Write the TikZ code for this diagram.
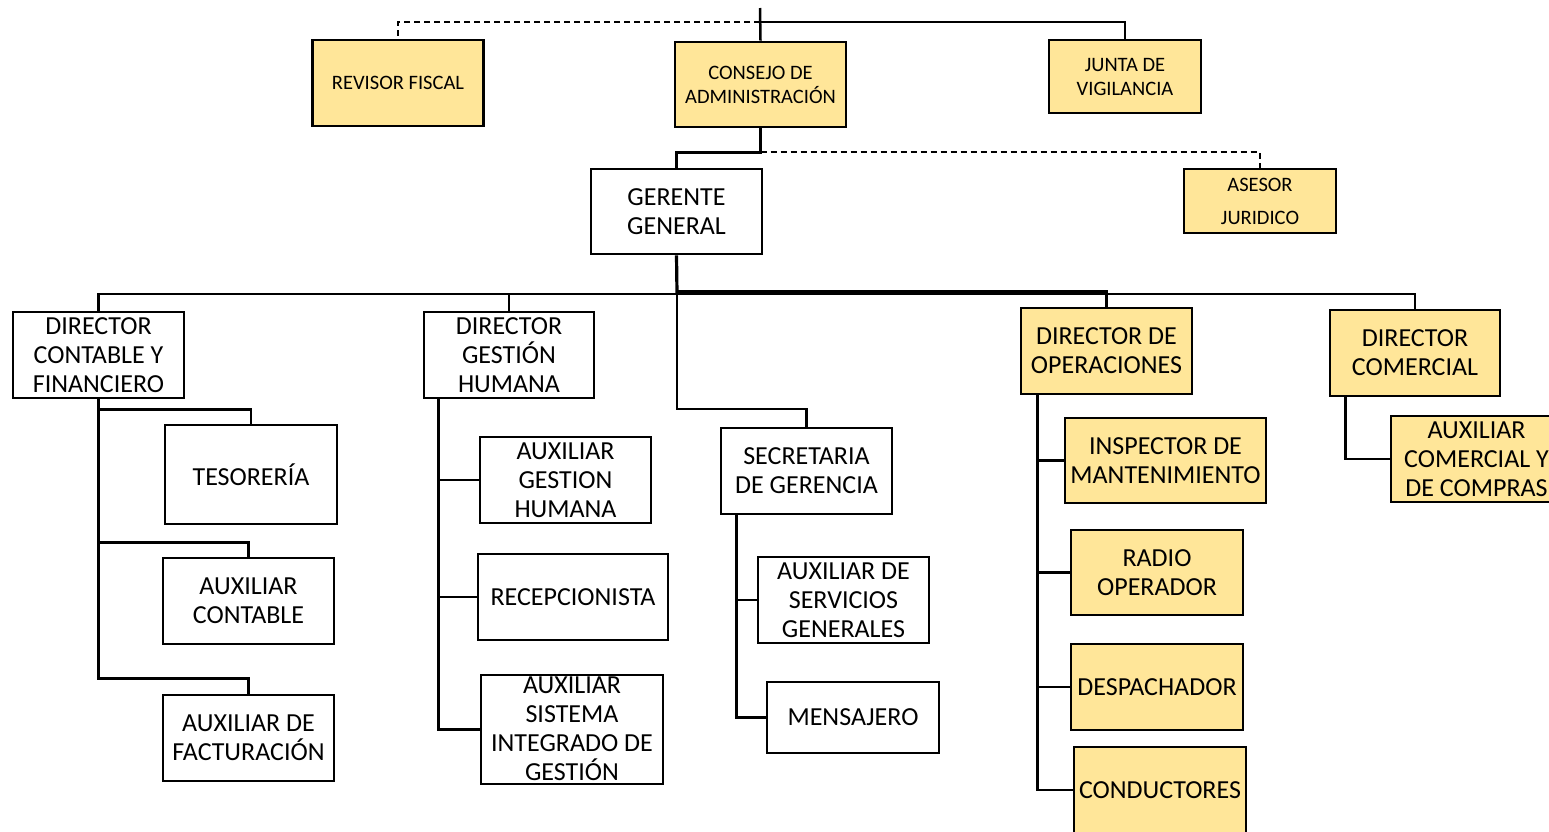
\documentclass[tikz,border=0pt]{standalone}
\usepackage{fontspec}
\setmainfont{Carlito}
\usetikzlibrary{positioning}
\definecolor{gold}{HTML}{FFE699}
\tikzset{
  post/.style={draw, line width=2.6pt, inner sep=0pt, align=center,
               font=\fontsize{26}{29}\selectfont, minimum width=171pt, minimum height=86pt},
  postgold/.style={post, fill=gold},
  board/.style={postgold, font=\fontsize{20.5}{24}\selectfont},
  link/.style={line width=2.5pt},
  softlink/.style={line width=1.8pt, dash pattern=on 6pt off 4pt}
}

\begin{document}
\begin{tikzpicture}[x=1pt, y=-1pt]
  \useasboundingbox (0,0) rectangle (1549,831);
  % governing bodies
  \node[board] (rev) at (398,83) {REVISOR FISCAL};
  \node[board, minimum height=85pt] (cons) at (760.5,84.5) {CONSEJO DE\\ADMINISTRACIÓN};
  \node[board, minimum width=152pt, minimum height=73pt] (junta) at (1125,76.5) {JUNTA DE\\VIGILANCIA};
  \node[post, minimum height=85pt] (ger) at (676.5,211.5) {GERENTE\\GENERAL};
  \node[board, minimum width=152pt, minimum height=64pt, font=\fontsize{20.5}{33}\selectfont] (ases) at (1260,201) {ASESOR\\JURIDICO};
  % directors
  \node[post] (dcf) at (98.5,355) {DIRECTOR\\CONTABLE Y\\FINANCIERO};
  \node[post, minimum width=170pt] (dgh) at (509,355) {DIRECTOR\\GESTIÓN\\HUMANA};
  \node[postgold] (dop) at (1106.5,351) {DIRECTOR DE\\OPERACIONES};
  \node[postgold, minimum width=170pt] (dcom) at (1415,353) {DIRECTOR\\COMERCIAL};
  % staff
  \node[post, minimum width=172pt, minimum height=99pt] (tes) at (251,474.5) {TESORERÍA};
  \node[post] (auxc) at (248.5,601) {AUXILIAR\\CONTABLE};
  \node[post] (fact) at (248.5,738) {AUXILIAR DE\\FACTURACIÓN};
  \node[post] (auxgh) at (565.5,480) {AUXILIAR\\GESTION\\HUMANA};
  \node[post, minimum width=190pt] (recep) at (573,597) {RECEPCIONISTA};
  \node[post, minimum width=182pt, minimum height=109pt] (sig) at (572,729.5)
    {\smash{\raisebox{-5pt}{\parbox[c]{182pt}{\centering AUXILIAR\\SISTEMA\\INTEGRADO DE\\GESTIÓN}}}};
  \node[post] (secr) at (806.5,471) {SECRETARIA\\DE GERENCIA};
  \node[post] (auxsg) at (843.5,600) {AUXILIAR DE\\SERVICIOS\\GENERALES};
  \node[post, minimum width=172pt, minimum height=71pt] (mens) at (853,717.5) {MENSAJERO};
  \node[postgold, minimum width=201pt, minimum height=85pt] (insp) at (1165.5,460.5) {INSPECTOR DE\\MANTENIMIENTO};
  \node[postgold, minimum width=172pt, minimum height=85pt] (radio) at (1157,572.5) {RADIO\\OPERADOR};
  \node[postgold, minimum width=172pt] (desp) at (1157,687) {DESPACHADOR};
  \node[postgold, minimum width=172pt] (cond) at (1160,790) {CONDUCTORES};
  \node[postgold] (auxcom) at (1476.5,459) {AUXILIAR\\COMERCIAL Y\\DE COMPRAS};
  % top links
  \coordinate (top) at (760,8);
  \coordinate (hub) at (760,22);
  \draw[link] (top) -- (cons.north);
  \draw[link] (hub) -| (junta.north);
  \draw[softlink] (hub) -| (rev.north);
  \draw[link] (cons.south) -- ++(0,24) -| (ger.north);
  \draw[softlink] (cons.south) ++(0,24) -| (ases.north);
  % gerente to directors
  \coordinate (bar) at (677,294);
  \draw[link, line width=3.2pt] (ger.south) -- (bar);
  \draw[link] (dcf.north) |- (bar) -| (dcom.north);
  \draw[link] (dgh.north) -- (dgh.north |- bar);
  \draw[link, line width=3.4pt] ([yshift=2pt]bar) -| (dop.north);
  \draw[link] (bar) -- ++(0,115) -| (secr.north);
  % contable y financiero
  \draw[link] (dcf.south) -- ++(0,279) -| (fact.north);
  \draw[link] (tes.north) |- ([yshift=-10pt]dcf.south);
  \draw[link] (auxc.north) |- ([yshift=-143pt]dcf.south);
  % gestion humana
  \coordinate (ghx) at ([xshift=16pt]dgh.south west);
  \draw[link] (ghx) |- (sig.west);
  \draw[link] (auxgh.west) -- (auxgh.west -| ghx);
  \draw[link] (recep.west) -- (recep.west -| ghx);
  % secretaria
  \coordinate (sgx) at ([xshift=17pt]secr.south west);
  \draw[link] (sgx) |- (mens.west);
  \draw[link] (auxsg.west) -- (auxsg.west -| sgx);
  % operaciones
  \coordinate (opx) at ([xshift=18pt]dop.south west);
  \draw[link] (opx) |- (cond.west);
  \draw[link] (insp.west) -- (insp.west -| opx);
  \draw[link] (radio.west) -- (radio.west -| opx);
  \draw[link] (desp.west) -- (desp.west -| opx);
  % comercial
  \draw[link] ([xshift=17pt]dcom.south west) |- (auxcom.west);
\end{tikzpicture}
\end{document}
